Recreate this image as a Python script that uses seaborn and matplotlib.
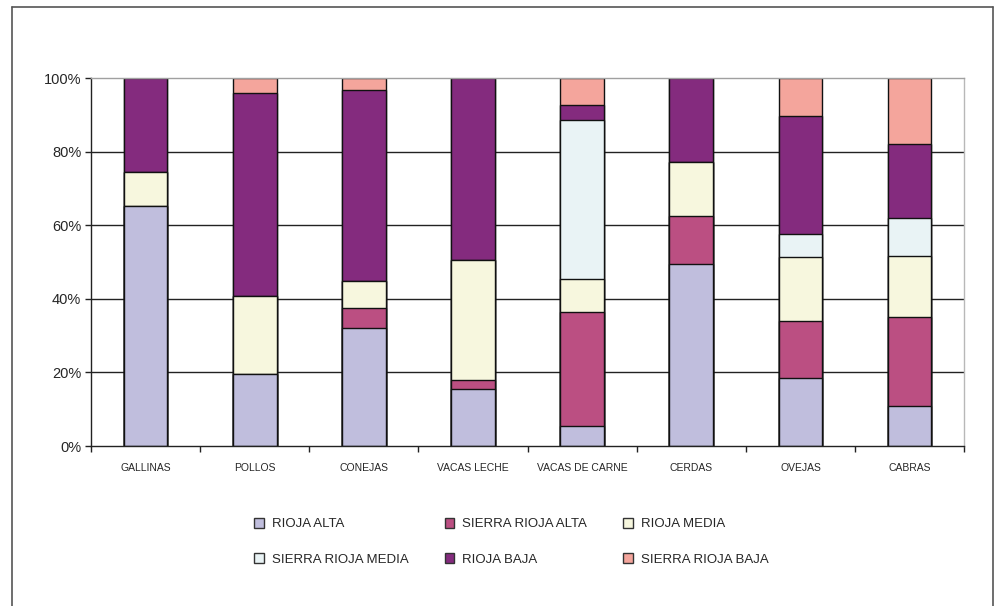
import numpy as np
import pandas as pd
import matplotlib
matplotlib.use("Agg")
import matplotlib.pyplot as plt
import seaborn as sns
from matplotlib.lines import Line2D
from matplotlib.patches import Patch
from matplotlib.ticker import FixedLocator, PercentFormatter

# --- Data (share in %) ---
categories = ["GALLINAS", "POLLOS", "CONEJAS", "VACAS LECHE",
              "VACAS DE CARNE", "CERDAS", "OVEJAS", "CABRAS"]
series_names = ["RIOJA ALTA", "SIERRA RIOJA ALTA", "RIOJA MEDIA",
                "SIERRA RIOJA MEDIA", "RIOJA BAJA", "SIERRA RIOJA BAJA"]
rioja_alta = [65.2, 19.6, 32.2, 15.5, 5.4, 49.5, 18.5, 10.9]
sierra_rioja_alta = [0.0, 0.0, 5.4, 2.4, 31.0, 13.0, 15.5, 24.2]
rioja_media = [9.4, 21.3, 7.3, 32.6, 9.0, 14.7, 17.4, 16.5]
sierra_rioja_media = [0.0, 0.0, 0.0, 0.0, 43.2, 0.0, 6.2, 10.4]
rioja_baja = [25.4, 55.1, 51.9, 49.5, 4.1, 22.8, 32.1, 20.1]
sierra_rioja_baja = [0.0, 4.0, 3.2, 0.0, 7.3, 0.0, 10.3, 17.9]

colors = ["#c0bedd", "#bb4f82", "#f7f7de", "#e9f3f5", "#842b7e", "#f4a59c"]

values = [rioja_alta, sierra_rioja_alta, rioja_media,
          sierra_rioja_media, rioja_baja, sierra_rioja_baja]
cum = np.cumsum(np.array(values), axis=0)

df = pd.DataFrame({"categoria": categories})
for name, row in zip(series_names, cum):
    df[name] = row

sns.set_theme(style="white")
plt.rcParams["font.family"] = ["Liberation Sans", "DejaVu Sans"]

fig = plt.figure(figsize=(9.94, 6.06), dpi=100)
ax = fig.add_axes([0.0915, 0.264, 0.8785, 0.607])

# draw cumulative layers from the top down so each segment shows
for name, color in reversed(list(zip(series_names, colors))):
    sns.barplot(data=df, x="categoria", y=name, color=color, width=0.4,
                edgecolor="#111111", linewidth=1.0, saturation=1, ax=ax,
                order=categories)

ax.set_xlim(-0.5, len(categories) - 0.5)
ax.set_ylim(0, 100)
ax.set_xlabel("")
ax.set_ylabel("")

# gridlines behind bars
ax.set_axisbelow(True)
ax.yaxis.set_major_locator(FixedLocator([0, 20, 40, 60, 80, 100]))
ax.yaxis.set_major_formatter(PercentFormatter(decimals=0))
for yv in [20, 40, 60, 80]:
    ax.axhline(yv, color="#222222", linewidth=1.0, zorder=0)
ax.tick_params(axis="y", direction="out", length=4, width=1, color="#222222",
               labelsize=10.5, pad=3, left=True)

# ticks between categories, labels centered
ax.xaxis.set_major_locator(FixedLocator(np.arange(-0.5, len(categories))))
ax.xaxis.set_major_formatter(plt.NullFormatter())
ax.xaxis.set_minor_locator(FixedLocator(np.arange(len(categories))))
ax.xaxis.set_minor_formatter(plt.FixedFormatter(categories))
ax.tick_params(axis="x", which="major", direction="out", length=4, width=1,
               color="#222222", bottom=True)
ax.tick_params(axis="x", which="minor", length=0, labelsize=7.5, pad=12)

ax.spines["left"].set_color("#222222")
ax.spines["bottom"].set_color("#222222")
ax.spines["top"].set_color("#a0a0a0")
ax.spines["right"].set_color("#b8b8b8")
for s in ax.spines.values():
    s.set_linewidth(1.0)

# legend, row-major order like the original
handles = [Patch(facecolor=c, edgecolor="#333333", linewidth=1.0) for c in colors]
order = [0, 3, 1, 4, 2, 5]
ax.legend([handles[i] for i in order], [series_names[i] for i in order],
          ncol=3, loc="upper left", bbox_to_anchor=(0.1735, -0.163),
          frameon=False, fontsize=9.5, handlelength=0.75, handleheight=0.75,
          handletextpad=0.6, columnspacing=2.7, labelspacing=1.75)

# outer chart-area border
for xs, ys in [([0.012, 0.012], [0.0, 0.988]),
               ([0.012, 0.999], [0.988, 0.988]),
               ([0.999, 0.999], [0.0, 0.988])]:
    fig.add_artist(Line2D(xs, ys, color="#555555", linewidth=1.2,
                          transform=fig.transFigure))

fig.savefig("out.png", dpi=100)
